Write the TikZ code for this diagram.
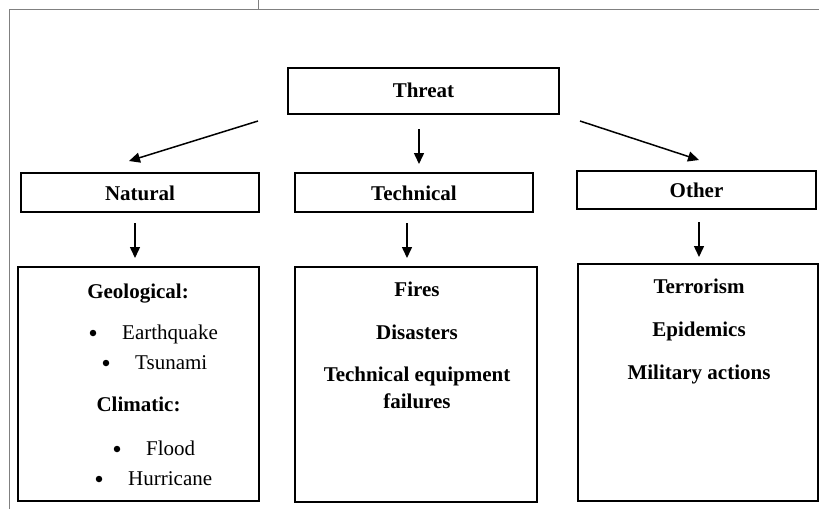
\documentclass[tikz,border=0pt]{standalone}
\usepackage{fontspec}
\setmainfont{Liberation Serif}
\usetikzlibrary{arrows.meta}
\begin{document}
\begin{tikzpicture}[x=1pt,y=-1pt,
  box/.style={draw=black,line width=1.5pt,rectangle,inner sep=0pt},
  lbl/.style={font=\fontsize{21}{25}\selectfont\bfseries,inner sep=0pt,text height=0.7em,text depth=0.2em},
  itm/.style={font=\fontsize{21}{25}\selectfont,inner sep=0pt,text height=0.7em,text depth=0.2em,anchor=west},
  bul/.style={circle,fill=black,inner sep=0pt,minimum size=6.5pt},
  arr/.style={line width=1.5pt,-{Triangle[length=11pt,width=10pt]}},
  frame/.style={draw=gray,line width=1pt}]
\useasboundingbox (0,0) rectangle (819,509);
% frame lines
\coordinate (f1) at (9,509);
\coordinate (f2) at (9,9);
\coordinate (f3) at (819,9);
\coordinate (f4) at (258,0);
\coordinate (f5) at (258,9);
\draw[frame] (f1) -- (f2) -- (f3);
\draw[frame] (f4) -- (f5);
% boxes
\node[box,minimum width=271pt,minimum height=46pt] (threat) at (423.5,91) {};
\node[lbl] (threatT) at (423.5,95) {Threat};
\node[box,minimum width=238pt,minimum height=39pt] (nat) at (140,192.5) {};
\node[lbl] (natT) at (140,198) {Natural};
\node[box,minimum width=238pt,minimum height=39pt] (tech) at (414,192.5) {};
\node[lbl] (techT) at (414,198) {Technical};
\node[box,minimum width=239pt,minimum height=38pt] (oth) at (696.5,190) {};
\node[lbl] (othT) at (696.5,195) {Other};
\node[box,minimum width=241pt,minimum height=234pt] (natL) at (138.5,384) {};
\node[box,minimum width=242pt,minimum height=235pt] (techL) at (416,384.5) {};
\node[box,minimum width=240pt,minimum height=237pt] (othL) at (698,382.5) {};
% arrows
\coordinate (a1s) at (258,121);
\coordinate (a1e) at (129,161);
\coordinate (a2s) at (419,129);
\coordinate (a2e) at (419,164);
\coordinate (a3s) at (580,121);
\coordinate (a3e) at (699,160);
\coordinate (a4s) at (135,223);
\coordinate (a4e) at (135,258);
\coordinate (a5s) at (407,223);
\coordinate (a5e) at (407,258);
\coordinate (a6s) at (699,222);
\coordinate (a6e) at (699,257);
\draw[arr] (a1s) -- (a1e);
\draw[arr] (a2s) -- (a2e);
\draw[arr] (a3s) -- (a3e);
\draw[arr] (a4s) -- (a4e);
\draw[arr] (a5s) -- (a5e);
\draw[arr] (a6s) -- (a6e);
% natural contents
\node[lbl] (geo) at (138,296) {Geological:};
\node[bul] (b1) at (93,333) {};
\node[itm] (i1) at (122,337) {Earthquake};
\node[bul] (b2) at (106,363) {};
\node[itm] (i2) at (135,367) {Tsunami};
\node[lbl] (cli) at (138.5,409) {Climatic:};
\node[bul] (b3) at (117,449) {};
\node[itm] (i3) at (146,453) {Flood};
\node[bul] (b4) at (99,479) {};
\node[itm] (i4) at (128,483) {Hurricane};
% technical contents
\node[lbl] (t1) at (417,294) {Fires};
\node[lbl] (t2) at (417,337) {Disasters};
\node[lbl] (t3) at (417,379) {Technical equipment};
\node[lbl] (t4) at (417,406) {failures};
% other contents
\node[lbl] (o1) at (699,291) {Terrorism};
\node[lbl] (o2) at (699,334) {Epidemics};
\node[lbl] (o3) at (699,377) {Military actions};
\end{tikzpicture}
\end{document}
